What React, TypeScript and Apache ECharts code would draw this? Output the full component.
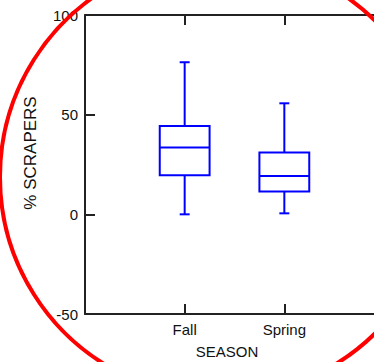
import React, { useEffect, useRef } from 'react';
import * as echarts from 'echarts';

const categories = ['Fall', 'Spring'];
const whiskerLow = [0, 0.5];
const q1 = [19.6, 11.5];
const median = [33.5, 19.2];
const q3 = [44.3, 31];
const whiskerHigh = [76.3, 55.7];
const yMin = -50;
const yMax = 100;
const yStep = 50;
const xTitle = 'SEASON';
const yTitle = '% SCRAPERS';

export default function App() {
  const ref = useRef<HTMLDivElement>(null);
  useEffect(() => {
    const chart = echarts.init(ref.current!, null, { renderer: 'svg' });
    const axisCats = ['', ...categories, ''];
    const data = categories.map((c, i) => [i + 1, whiskerLow[i], q1[i], median[i], q3[i], whiskerHigh[i]]);
    const font = 'Liberation Sans, Arial, sans-serif';
    const lineColor = '#222';
    const axisLine = { show: true, onZero: false, lineStyle: { color: lineColor, width: 2 } };
    const axisTick = { show: true, inside: true, length: 10, lineStyle: { color: lineColor, width: 2 } };
    const blue = '#0000ff';
    chart.setOption({
      animation: false,
      grid: { left: 85, top: 15, width: 299, height: 299, outerBoundsMode: 'none', containLabel: false },
      xAxis: [
        {
          type: 'category', data: axisCats, boundaryGap: false, position: 'bottom',
          axisLine, axisTick: { ...axisTick, interval: 0 },
          axisLabel: { interval: 0, margin: 8, fontSize: 15, fontFamily: font, color: '#111' },
          splitLine: { show: false },
        },
        {
          type: 'category', data: axisCats, boundaryGap: false, position: 'top',
          axisLine, axisTick: { ...axisTick, interval: 0 },
          axisLabel: { show: false }, splitLine: { show: false },
        },
      ],
      yAxis: [
        {
          type: 'value', min: yMin, max: yMax, interval: yStep, position: 'left',
          axisLine, axisTick,
          axisLabel: { margin: 7, fontSize: 15, fontFamily: font, color: '#111' },
          splitLine: { show: false },
        },
        {
          type: 'value', min: yMin, max: yMax, interval: yStep, position: 'right',
          axisLine, axisTick, axisLabel: { show: false }, splitLine: { show: false },
        },
      ],
      series: [
        {
          type: 'custom',
          xAxisIndex: 0,
          yAxisIndex: 0,
          encode: { x: 0, y: [1, 2, 3, 4, 5] },
          data,
          renderItem: (params: any, api: any) => {
            const x = api.value(0);
            const pLow = api.coord([x, api.value(1)]);
            const pQ1 = api.coord([x, api.value(2)]);
            const pMed = api.coord([x, api.value(3)]);
            const pQ3 = api.coord([x, api.value(4)]);
            const pHigh = api.coord([x, api.value(5)]);
            const cx = pMed[0];
            const band = api.size([1, 0])[0];
            const halfW = band * 0.25;
            const capHalf = band * 0.05;
            const style = { stroke: blue, lineWidth: 2, fill: 'none' };
            return {
              type: 'group',
              children: [
                { type: 'rect', shape: { x: cx - halfW, y: pQ3[1], width: 2 * halfW, height: pQ1[1] - pQ3[1] }, style },
                { type: 'line', shape: { x1: cx - halfW, y1: pMed[1], x2: cx + halfW, y2: pMed[1] }, style },
                { type: 'line', shape: { x1: cx, y1: pQ3[1], x2: cx, y2: pHigh[1] }, style },
                { type: 'line', shape: { x1: cx, y1: pQ1[1], x2: cx, y2: pLow[1] }, style },
                { type: 'line', shape: { x1: cx - capHalf, y1: pHigh[1], x2: cx + capHalf, y2: pHigh[1] }, style },
                { type: 'line', shape: { x1: cx - capHalf, y1: pLow[1], x2: cx + capHalf, y2: pLow[1] }, style },
              ],
            };
          },
        },
      ],
      graphic: [
        {
          type: 'text', x: 227, y: 351,
          style: { text: xTitle, align: 'center', verticalAlign: 'middle', fontSize: 15, fontFamily: font, fill: '#111' },
        },
        {
          type: 'text', x: 30, y: 153, rotation: Math.PI / 2,
          style: { text: yTitle, align: 'center', verticalAlign: 'middle', fontSize: 17, fontFamily: font, fill: '#111' },
        },
        {
          type: 'circle', z: 100,
          shape: { cx: 220, cy: 177, r: 220 },
          style: { stroke: '#ff0000', lineWidth: 4, fill: 'none' },
        },
      ],
    });
    return () => chart.dispose();
  }, []);
  return <div ref={ref} style={{ position: 'absolute', left: 0, top: 0, width: 374, height: 362 }} />;
}
